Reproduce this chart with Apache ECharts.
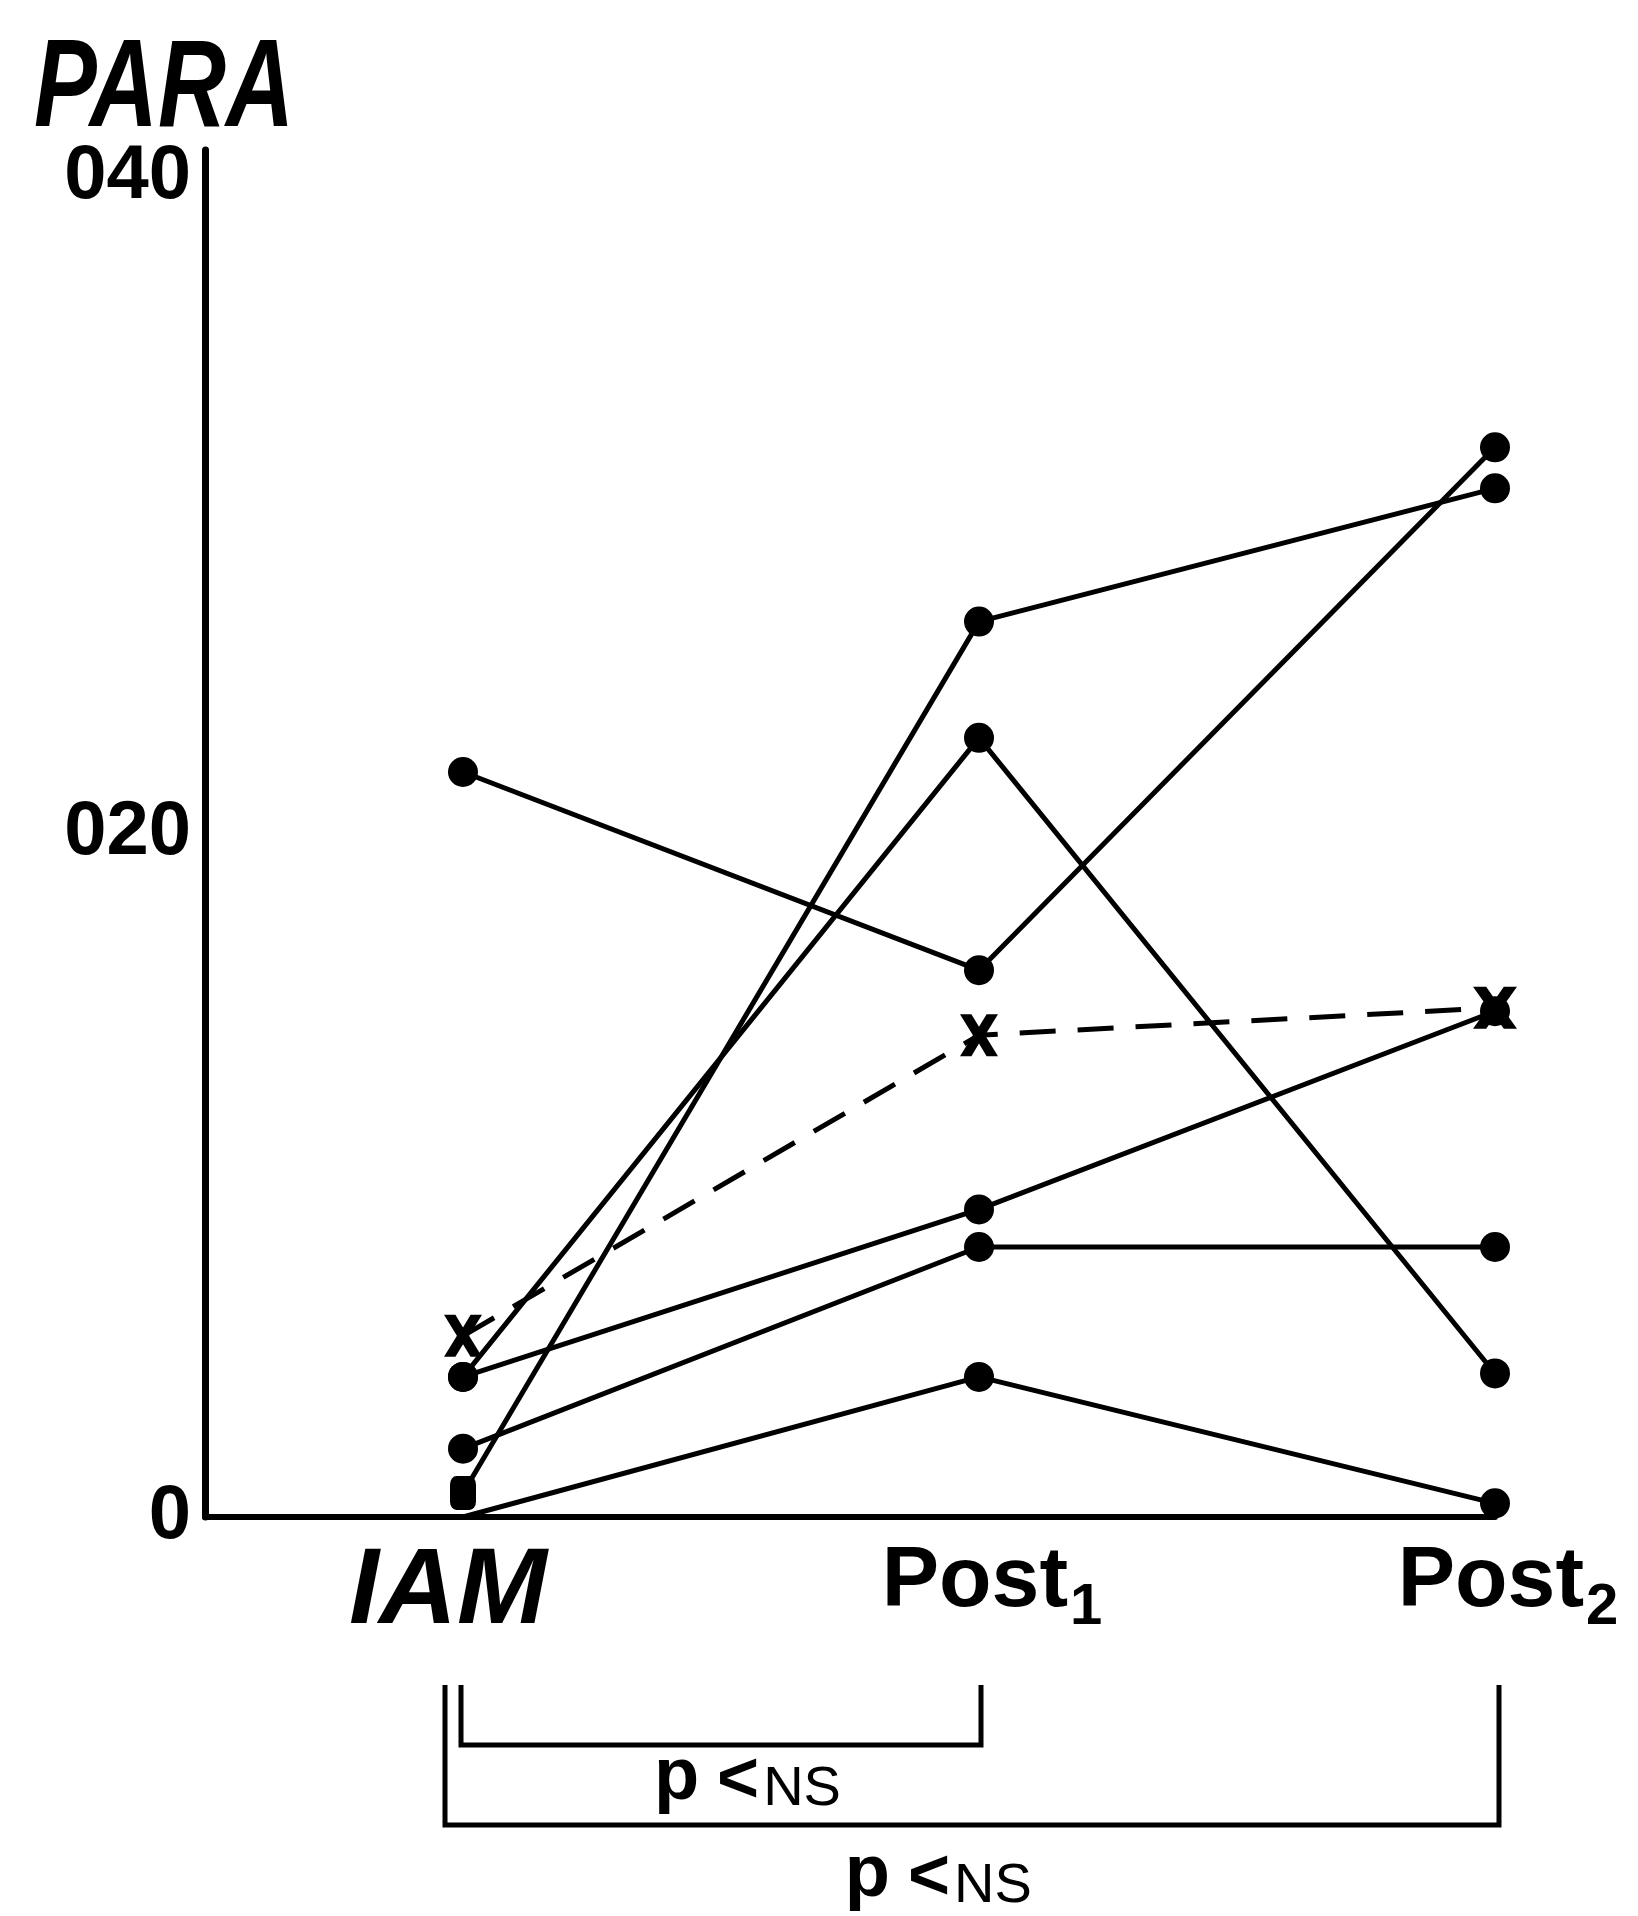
<!DOCTYPE html>
<html>
<head>
<meta charset="utf-8">
<script src="https://cdn.jsdelivr.net/npm/echarts@6/dist/echarts.min.js"></script>
<style>
html,body{margin:0;padding:0;background:#fff;}
#c{width:1638px;height:1916px;}
</style>
</head>
<body>
<div id="c"></div>
<script>
// ---- data ----
const titleText = 'PARA';
const categories = ['IAM', 'Post1', 'Post2'];
const yTickLabels = ['0', '020', '040'];
const seriesA = [21.8, 16.0, 31.3];
const seriesB = [0.7, 26.2, 30.1];
const seriesC = [4.1, 22.8, 4.2];
const seriesD = [4.1, 9.0, 14.8];
const seriesE = [2.0, 7.9, 7.9];
const seriesF = [0, 4.1, 0.4];
const meanX = [5.3, 14.1, 14.9];
const bracketFrom = [0, 0];
const bracketTo = [1, 2];
const bracketText = ['p<NS', 'p<NS'];

const FONT = '"Liberation Sans", Arial, Helvetica, sans-serif';
const xPath = 'path://M0,0 L3,0 L5,3 L7,0 L10,0 L6.6,5 L10,10 L7,10 L5,7 L3,10 L0,10 L3.4,5 Z';

function solid(arr, firstOverride) {
  const data = arr.map((v, i) => [i, v]);
  if (firstOverride) data[0] = Object.assign({ value: data[0] }, firstOverride);
  return {
    type: 'line', data: data, symbol: 'circle', symbolSize: 30, clip: false, silent: true,
    lineStyle: { color: '#000', width: 5 }, itemStyle: { color: '#000' }, z: 3
  };
}

const meanData = meanX.map((v, i) => ({ value: [i, v], symbolSize: i === 2 ? [44, 42] : [38, 42] }));

const chart = echarts.init(document.getElementById('c'), null, { renderer: 'canvas' });
const option = {
  backgroundColor: '#fff',
  animation: false,
  grid: { left: 205, right: 143, top: 150, bottom: 399 },
  xAxis: {
    type: 'value', min: -0.5, max: 2, interval: 0.5,
    splitLine: { show: false }, axisTick: { show: false },
    axisLine: { show: true, onZero: false, lineStyle: { color: '#000', width: 6 } },
    axisLabel: {
      margin: 22,
      formatter: function (v) {
        const i = Math.round(v);
        if (Math.abs(v - i) > 1e-6 || i < 0 || i >= categories.length) return '';
        const name = categories[i];
        const m = name.match(/^(.*?)(\d)$/);
        if (m) return '{main|' + m[1] + '}{sub|' + m[2] + '}';
        return '{ital|' + name + '}';
      },
      rich: {
        main: { fontSize: 86, fontWeight: 'bold', fontFamily: FONT, color: '#000', lineHeight: 86, verticalAlign: 'top', padding: [0, 0, 0, 26] },
        sub: { fontSize: 58, fontWeight: 'bold', fontFamily: FONT, color: '#000', lineHeight: 58, verticalAlign: 'top', padding: [40, 0, 0, 2] },
        ital: { fontSize: 108, fontWeight: 'bold', fontStyle: 'italic', fontFamily: FONT, color: '#000', lineHeight: 130, verticalAlign: 'top', padding: [0, 30, 0, 0] }
      }
    }
  },
  yAxis: {
    type: 'value', min: 0, max: 40, interval: 20,
    splitLine: { show: false }, axisTick: { show: false },
    axisLine: { show: true, onZero: false, lineStyle: { color: '#000', width: 7 } },
    axisLabel: {
      margin: 14, fontSize: 76, fontWeight: 'bold', fontFamily: FONT, color: '#000',
      lineHeight: 54,
      verticalAlignMaxLabel: 'top',
      formatter: function (v) { return yTickLabels[Math.round(v / 20)]; }
    }
  },
  series: [
    solid(seriesA),
    solid(seriesB, { symbol: 'roundRect', symbolSize: [26, 34] }),
    solid(seriesC),
    solid(seriesD),
    solid(seriesE),
    solid(seriesF, { symbol: 'none' }),
    {
      type: 'line', data: meanData, symbol: xPath, clip: false, silent: true,
      lineStyle: { color: '#000', width: 5, type: [36, 22] }, itemStyle: { color: '#000' }, z: 4
    }
  ]
};
chart.setOption(option);

// title (condensed italic) and brackets with significance text below the axis
(function () {
  const axisY = chart.convertToPixel({ yAxisIndex: 0 }, 0);
  const legTop = axisY + 168;
  const levels = [
    { bottom: 228, dl: -2, dr: 2, ty: -3 },
    { bottom: 308, dl: -18, dr: 4, ty: 14 }
  ];
  const els = [{
    type: 'text', silent: true, x: 34, y: 30, scaleX: 0.76,
    style: {
      text: titleText, fill: '#000', align: 'left', verticalAlign: 'top',
      fontFamily: FONT, fontStyle: 'italic', fontWeight: 'bold', fontSize: 124, lineHeight: 124
    }
  }];
  bracketFrom.forEach(function (f, i) {
    const xa = chart.convertToPixel({ xAxisIndex: 0 }, f);
    const xb = chart.convertToPixel({ xAxisIndex: 0 }, bracketTo[i]);
    const lv = levels[i];
    const yb = axisY + lv.bottom;
    els.push({
      type: 'polyline', silent: true,
      shape: { points: [[xa + lv.dl, legTop], [xa + lv.dl, yb], [xb + lv.dr, yb], [xb + lv.dr, legTop]] },
      style: { stroke: '#000', lineWidth: 5, fill: null }
    });
    const m = bracketText[i].match(/^(p)(<)(.*)$/);
    els.push({
      type: 'text', silent: true,
      x: xa + 0.37 * (xb - xa), y: yb + lv.ty,
      style: {
        text: '{p|' + m[1] + '}{lt|' + m[2] + '}{ns|' + m[3] + '}',
        align: 'left', verticalAlign: 'top', fill: '#000',
        rich: {
          p: { fontSize: 74, fontWeight: 'bold', fontFamily: FONT, fill: '#000', lineHeight: 74, verticalAlign: 'top', padding: [0, 18, 0, 0] },
          lt: { fontSize: 72, fontWeight: 'bold', fontFamily: FONT, fill: '#000', lineHeight: 72, verticalAlign: 'top', padding: [4, 4, 0, 0] },
          ns: { fontSize: 56, fontFamily: FONT, fill: '#000', lineHeight: 56, verticalAlign: 'top', padding: [20, 0, 0, 0] }
        }
      }
    });
  });
  chart.setOption({ graphic: els });
})();
</script>
</body>
</html>
